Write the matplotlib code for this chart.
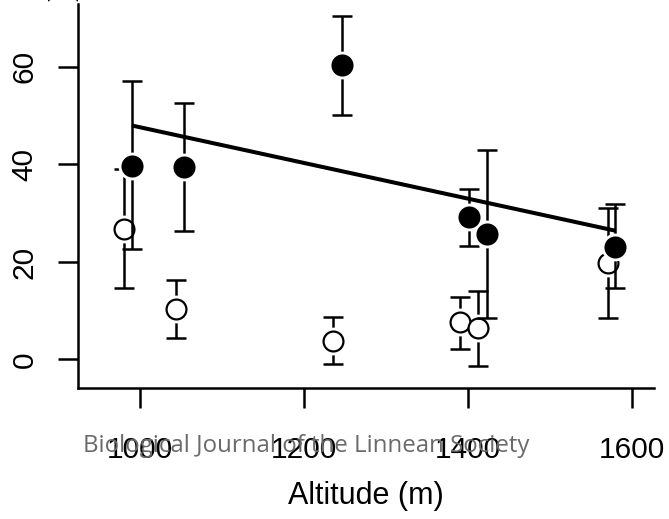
import matplotlib
matplotlib.use("Agg")
import matplotlib.pyplot as plt
import numpy as np

# open circles
alt_open = [980, 1044, 1236, 1390, 1413, 1571]
mean_open = [26.8, 10.4, 3.8, 7.6, 6.4, 19.7]
lo_open = [14.6, 4.35, -1.0, 2.15, -1.3, 8.6]
hi_open = [39.0, 16.4, 8.65, 12.9, 14.1, 31.0]

# filled circles
alt_filled = [990, 1054, 1246, 1401, 1423, 1580]
mean_filled = [39.75, 39.4, 60.3, 29.3, 25.7, 23.1]
lo_filled = [22.6, 26.4, 50.1, 23.3, 8.45, 14.6]
hi_filled = [57.2, 52.6, 70.5, 35.0, 43.0, 31.8]

# regression through filled points
fit_slope = -0.03657
fit_intercept = 84.19

x_ticks = [1000, 1200, 1400, 1600]
y_ticks = [0, 20, 40, 60]

plt.rcParams["font.family"] = ["Liberation Sans", "DejaVu Sans"]

fig = plt.figure(figsize=(6.69, 5.19), dpi=100)
ax = fig.add_axes([78 / 669, 1 - 388 / 519, (654 - 78) / 669, (388 - 4) / 519])


def draw_series(alt, mean, lo, hi, face, z):
    alt = np.asarray(alt)
    mean = np.asarray(mean)
    err = np.vstack([mean - np.asarray(lo), np.asarray(hi) - mean])
    ax.errorbar(alt, mean, yerr=err, fmt="none", ecolor="black", elinewidth=1.8,
                capsize=7.2, capthick=1.8, zorder=z)
    # white halo so the bars stop short of the points
    ax.plot(alt, mean, "o", ms=20, mfc="white", mec="white", mew=0, zorder=z + 0.1)
    ax.plot(alt, mean, "o", ms=14.3, mfc=face, mec="black", mew=1.6, zorder=z + 0.2)


draw_series(alt_open, mean_open, lo_open, hi_open, "white", 3)
draw_series(alt_filled, mean_filled, lo_filled, hi_filled, "black", 4)

fit_x = np.array([min(alt_filled), max(alt_filled)])
ax.plot(fit_x, fit_intercept + fit_slope * fit_x, color="black", lw=2.9,
        solid_capstyle="butt", zorder=5)

ax.set_xlim(924.3, 1627.2)
ax.set_ylim(-5.85, 72.9)
ax.set_xticks(x_ticks)
ax.set_yticks(y_ticks)
for side in ("top", "right"):
    ax.spines[side].set_visible(False)
for side in ("left", "bottom"):
    ax.spines[side].set_linewidth(1.8)
ax.tick_params(axis="both", length=14.4, width=1.8, labelsize=21.5)
ax.tick_params(axis="x", pad=20.5)
ax.tick_params(axis="y", pad=14)
for lab in ax.get_yticklabels():
    lab.set_rotation(90)
    lab.set_va("center")
ax.set_xlabel("Altitude (m)", fontsize=22, labelpad=12)

# cut-off end of the y label at the top edge
fig.text(64 / 669, 1 - 1 / 519, ")", rotation=90, ha="center", va="bottom", fontsize=22)

fig.text(306 / 669, 1 - 446 / 519, "Biological Journal of the Linnean Society",
         ha="center", va="center", fontsize=17.3, color="#6a6a6a",
         family=["Open Sans", "DejaVu Sans"], zorder=10)

fig.savefig("out.png", dpi=100)
